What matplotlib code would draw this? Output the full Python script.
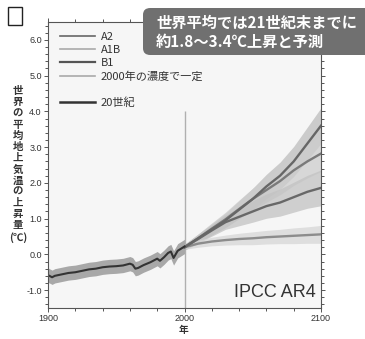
"""IPCC AR4 global mean surface warming projections (Japanese labels)."""

import numpy as np
import matplotlib
matplotlib.use("Agg")
import matplotlib.pyplot as plt
from matplotlib.patches import FancyBboxPatch
from matplotlib.lines import Line2D
from matplotlib.ticker import MultipleLocator

JP = ["Noto Sans CJK JP", "DejaVu Sans"]
NUM = ["Liberation Sans Narrow", "Liberation Sans", "DejaVu Sans"]

# 20th century observations / simulations
hist_years = [1900, 1903, 1905, 1910, 1915, 1920, 1925, 1930, 1935, 1940, 1945,
              1950, 1955, 1960, 1962, 1964, 1966, 1970, 1975, 1980, 1982, 1985,
              1988, 1990, 1992, 1995, 2000]
hist_vals = [-0.58, -0.64, -0.6, -0.56, -0.52, -0.5, -0.46, -0.42, -0.4, -0.36, -0.34,
             -0.33, -0.31, -0.26, -0.29, -0.4, -0.38, -0.3, -0.22, -0.12, -0.18, -0.08,
             0.04, 0.08, -0.1, 0.1, 0.22]
hist_spread = 0.2

# scenario projections
proj_years = [2000, 2010, 2020, 2030, 2040, 2050, 2060, 2070, 2080, 2090, 2100]
a2 = [0.2, 0.45, 0.7, 0.95, 1.25, 1.55, 1.9, 2.2, 2.6, 3.1, 3.6]
a1b = [0.2, 0.45, 0.72, 0.98, 1.27, 1.55, 1.8, 2.05, 2.35, 2.6, 2.82]
b1 = [0.2, 0.43, 0.67, 0.9, 1.05, 1.2, 1.35, 1.45, 1.6, 1.75, 1.86]
const = [0.2, 0.3, 0.36, 0.4, 0.43, 0.45, 0.48, 0.5, 0.52, 0.54, 0.56]
spread = [0.08, 0.12, 0.16, 0.2, 0.25, 0.3, 0.34, 0.38, 0.42, 0.46, 0.5]
const_spread = [0.06, 0.1, 0.12, 0.14, 0.16, 0.18, 0.19, 0.2, 0.22, 0.23, 0.25]

labels = ["A2", "A1B", "B1", "2000年の濃度で一定", "", "20世紀"]
title_lines = ["世界平均では21世紀末までに", "約1.8～3.4℃上昇と予測"]
ylabel_chars = "世界の平均地上気温の上昇量"

fig = plt.figure(figsize=(3.65, 3.39), dpi=100)
ax = fig.add_axes([48 / 365, 1 - 308 / 339, 273 / 365, 286 / 339])
ax.set_facecolor("#f6f6f6")

# uncertainty bands
py = np.array(proj_years)
for vals, sp, col in [(a2, spread, "#bdbdbd"), (a1b, spread, "#cdcdcd"),
                      (b1, spread, "#c2c2c2"), (const, const_spread, "#d6d6d6")]:
    v = np.array(vals)
    s = np.array(sp)
    ax.fill_between(py, v - s, v + s, color=col, alpha=0.75, lw=0)
hv = np.array(hist_vals)
ax.fill_between(hist_years, hv - hist_spread, hv + hist_spread, color="#a8a8a8", lw=0)

ax.vlines(2000, -1.5, 4.0, color="#b0b0b0", lw=1.0)

ax.plot(proj_years, const, color="#8c8c8c", lw=1.7)
ax.plot(proj_years, b1, color="#686868", lw=1.7)
ax.plot(proj_years, a1b, color="#7a7a7a", lw=1.7)
ax.plot(proj_years, a2, color="#666666", lw=1.7)
ax.plot(hist_years, hist_vals, color="#333333", lw=1.5)

ax.set_xlim(1900, 2100)
ax.set_ylim(-1.5, 6.5)
ax.set_xticks([1900, 2000, 2100])
ax.xaxis.set_minor_locator(MultipleLocator(20))
ax.yaxis.set_minor_locator(MultipleLocator(0.2))
yticks = np.arange(-1.0, 6.01, 1.0)
ax.set_yticks(yticks)
ax.set_yticklabels([f"{v:.1f}" for v in yticks])
ax.tick_params(which="both", direction="out", color="#555555", width=0.7,
               top=True, right=True, labelsize=6.5, pad=1.5, labelcolor="#333333")
ax.tick_params(which="major", length=3)
ax.tick_params(which="minor", length=2)
for lab in ax.get_xticklabels() + ax.get_yticklabels():
    lab.set_family(NUM)
for sp_ in ax.spines.values():
    sp_.set_color("#555555")
    sp_.set_linewidth(0.8)

handles = [Line2D([], [], color=c, lw=w) for c, w in
           [("#666666", 1.2), ("#aaaaaa", 1.2), ("#555555", 1.6),
            ("#aaaaaa", 1.2), ("none", 1.0), ("#333333", 1.8)]]
leg = ax.legend(handles, labels, loc="upper left", bbox_to_anchor=(0.044, 0.965),
                frameon=False, handlelength=3.15, handletextpad=0.5,
                labelspacing=0.27, borderaxespad=0.0, borderpad=0.0,
                prop={"family": JP, "size": 8})
for t in leg.get_texts():
    t.set_color("#333333")

ax.text(0.982, 0.038, "IPCC AR4", transform=ax.transAxes, ha="right", va="baseline",
        fontsize=13, color="#333333", family=["Liberation Sans", "DejaVu Sans"])

# vertical y label
for i, ch in enumerate(ylabel_chars):
    fig.text(18 / 365, 1 - (91 + i * 11.2) / 339, ch, ha="center", va="center",
             fontsize=7.5, fontweight="bold", color="#333333", family=JP)
fig.text(18 / 365, 1 - 238 / 339, "(℃)", ha="center", va="center",
         fontsize=7.5, fontweight="bold", color="#333333", family=JP)
fig.text(184 / 365, 1 - 330 / 339, "年", ha="center", va="center",
         fontsize=7, fontweight="bold", color="#333333", family=JP)

# checkbox mark
fig.patches.append(plt.Rectangle((8 / 365, 1 - 25 / 339), 14 / 365, 18 / 339,
                                 transform=fig.transFigure, fill=False,
                                 ec="#222222", lw=1.0))

# title box
box = FancyBboxPatch((143 / 365, 1 - 55 / 339), 230 / 365, 47 / 339,
                     boxstyle="round,pad=0,rounding_size=0.02",
                     transform=fig.transFigure, fc="#707070", ec="none", zorder=5)
fig.patches.append(box)
fig.text(156 / 365, 1 - 23 / 339, title_lines[0], ha="left", va="center",
         fontsize=11, fontweight="bold", color="white", family=JP, zorder=6)
fig.text(156 / 365, 1 - 42 / 339, title_lines[1], ha="left", va="center",
         fontsize=11, fontweight="bold", color="white", family=JP, zorder=6)

fig.savefig("out.png", dpi=100)
